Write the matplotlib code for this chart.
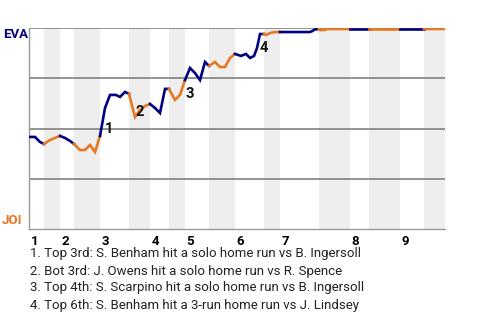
import matplotlib
matplotlib.use("Agg")
import matplotlib.pyplot as plt

# win probability for EVA (%), x = position along the game (plate-appearance steps)
teams = ["EVA", "JOI"]
half_innings = [0, 15, 31, 45, 71, 100, 121, 140, 156, 180, 206, 235, 251, 290, 321, 340, 371, 395, 416]
inning_labels = ["1", "2", "3", "4", "5", "6", "7", "8", "9"]

wp_x = [0, 6, 11, 15,
        21, 26, 31,
        36, 41, 45,
        51, 56, 61, 66, 71,
        76, 81, 87, 91, 96, 100,
        106, 111, 116, 121,
        126, 131, 136, 140,
        146, 151, 156,
        161, 166, 171, 176, 180,
        186, 191, 196, 201, 206,
        212, 217, 221, 225, 228, 231, 235,
        237, 241, 246, 251,
        256, 261, 266, 271, 276, 281, 283, 286, 290,
        291, 296, 298, 303, 308, 313, 318, 321,
        326, 331, 336, 340,
        346, 351, 356, 361, 366, 371,
        376, 381, 386, 391, 395,
        400, 405, 410, 415, 416]
wp = [45.8, 45.8, 43.3, 42.3,
      44.3, 45.3, 46.3,
      45.3, 43.8, 42.3,
      39.3, 39.3, 41.8, 38.3, 46.3,
      60.2, 66.7, 66.7, 65.7, 68.2, 67.2,
      55.7, 59.2, 61.2, 62.2,
      60.2, 57.7, 69.7, 69.7,
      64.2, 66.7, 74.1,
      80.1, 77.6, 74.1, 83.1, 81.1,
      83.1, 80.6, 80.6, 85.1, 87.1,
      86.1, 87.1, 85.1, 86.1, 90.0, 97.0, 97.0,
      96.5, 97.5, 98.0, 98.0,
      98.0, 98.0, 98.0, 98.0, 98.0, 98.0, 98.4, 99.3, 99.5,
      99.0, 99.0, 99.5, 99.5, 99.5, 99.5, 99.5, 99.5,
      99.5, 99.5, 99.5, 99.5,
      99.5, 99.5, 99.5, 99.5, 99.5, 99.5,
      99.5, 99.5, 99.5, 99.5, 99.5,
      99.5, 99.5, 99.5, 99.5, 100.0]

# key plays: index of the point after the play
key_play_idx = [15, 21, 31, 47]
key_play_text = [
    "1. Top 3rd: S. Benham hit a solo home run vs B. Ingersoll",
    "2. Bot 3rd: J. Owens hit a solo home run vs R. Spence",
    "3. Top 4th: S. Scarpino hit a solo home run vs B. Ingersoll",
    "4. Top 6th: S. Benham hit a 3-run home run vs J. Lindsey",
]

navy = "#000080"
orange = "#E87722"
grid_col = "#808080"
band_col = "#EEEEEE"

plt.rcParams["font.family"] = ["Liberation Sans Narrow", "Roboto", "DejaVu Sans"]

fig = plt.figure(figsize=(4.8, 3.2), dpi=100)
ax = fig.add_axes([29 / 480, 1 - 229 / 320, 416 / 480, 201 / 320])

# shaded bottom halves
for i in range(1, len(half_innings) - 1, 2):
    ax.axvspan(half_innings[i], half_innings[i + 1], color=band_col, lw=0, zorder=0)

for yv in [25, 50, 75, 100]:
    ax.axhline(yv, color=grid_col, lw=1.2, zorder=1)

# line, coloured by half inning (top = EVA batting)
for i in range(len(half_innings) - 1):
    lo, hi = half_innings[i], half_innings[i + 1]
    xs = [x for x in wp_x if lo <= x <= hi]
    ys = [p for x, p in zip(wp_x, wp) if lo <= x <= hi]
    ax.plot(xs, ys, color=navy if i % 2 == 0 else orange, lw=1.9,
            solid_joinstyle="miter", zorder=3)

for n, idx in enumerate(key_play_idx):
    ym = (wp[idx] + wp[idx - 1]) / 2
    ax.annotate(str(n + 1), (wp_x[idx], ym), xytext=(0, -5), textcoords="offset points",
                ha="left", va="center", fontsize=10.5, fontweight="bold", color="#111111",
                family=["Roboto", "DejaVu Sans"], zorder=4)

ax.set_xlim(half_innings[0], half_innings[-1])
ax.set_ylim(0, 100)
ax.set_xticks([])
ax.set_yticks([])
for s in ["top", "right"]:
    ax.spines[s].set_visible(False)
for s in ["left", "bottom"]:
    ax.spines[s].set_color("#999999")
    ax.spines[s].set_linewidth(1.0)

for k, lab in enumerate(inning_labels):
    ax.annotate(lab, (half_innings[2 * k], 0), xytext=(1, -9), textcoords="offset points",
                ha="left", va="center", fontsize=9.5, fontweight="bold", color="black",
                family=["Roboto", "DejaVu Sans"])

fig.text(3 / 480, 1 - 34 / 320, teams[0], color=navy, fontsize=9.5, fontweight="bold",
         ha="left", va="center", family=["Roboto", "DejaVu Sans"])
fig.text(2 / 480, 1 - 220 / 320, teams[1], color=orange, fontsize=9.5, fontweight="bold",
         ha="left", va="center", family=["Roboto", "DejaVu Sans"])

for j, txt in enumerate(key_play_text):
    fig.text(30 / 480, 1 - (254 + 17 * j) / 320, txt, fontsize=9.5, color="#222222",
             ha="left", va="center")

fig.savefig("out.png", dpi=100)
